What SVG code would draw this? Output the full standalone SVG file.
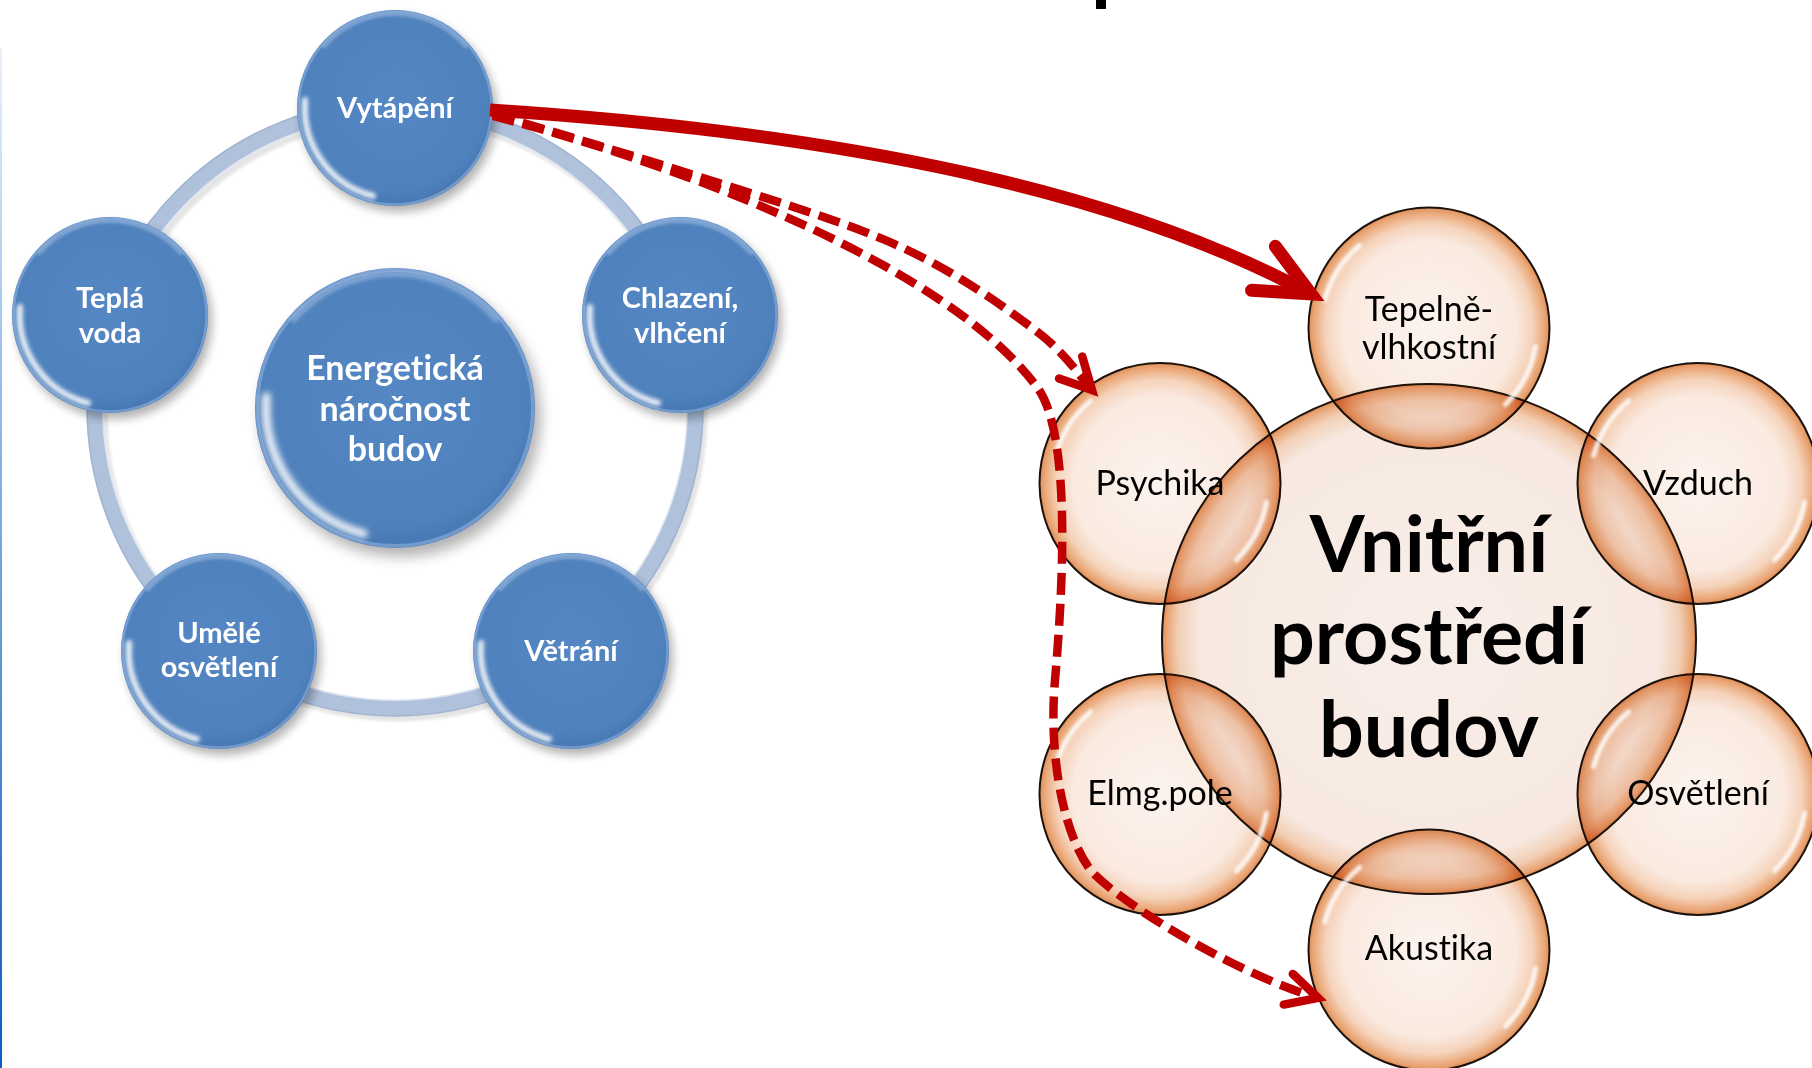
<svg xmlns="http://www.w3.org/2000/svg" width="1812" height="1068" viewBox="0 0 1812 1068">
<defs>
<style>
text{font-variant-ligatures:none;font-feature-settings:"liga" 0,"clig" 0}
.wt{font-family:Lato,"Liberation Sans",sans-serif;font-weight:700;fill:#fff;text-anchor:middle;font-size:29px}
.ct{font-size:34px}
.kt{font-family:Lato,"Liberation Sans",sans-serif;fill:#000;text-anchor:middle;font-size:34px}
.big{font-weight:700;font-size:79px}
.mul{mix-blend-mode:multiply}
.con{fill:none;stroke:#c00000}
.solid{stroke-width:13}
.dash{stroke-width:8.5;stroke-dasharray:22 9}
.hl{fill:none;stroke:#fff;stroke-width:5;stroke-linecap:round;opacity:.85}
</style>
<linearGradient id="edge" x1="0" y1="0" x2="0" y2="1"><stop offset="0" stop-color="#eaf2fb"/><stop offset=".3" stop-color="#9cc2ea"/><stop offset="1" stop-color="#0a5cc0"/></linearGradient>
<radialGradient id="blue" cx=".5" cy=".45" r=".55"><stop offset="0" stop-color="#5587c4"/><stop offset=".85" stop-color="#4f81bd"/><stop offset="1" stop-color="#4677b2"/></radialGradient>
<radialGradient id="peach" cx=".5" cy=".5" r=".5"><stop offset="0" stop-color="#fcf3ee"/><stop offset=".72" stop-color="#faeae0"/><stop offset=".86" stop-color="#f5d3bb"/><stop offset=".96" stop-color="#eaa676"/><stop offset="1" stop-color="#dd8e58"/></radialGradient>
<radialGradient id="peachC" cx=".5" cy=".5" r=".5"><stop offset="0" stop-color="#f8eee9"/><stop offset=".86" stop-color="#f7e9e1"/><stop offset=".94" stop-color="#f2cfb6"/><stop offset=".985" stop-color="#e8a474"/><stop offset="1" stop-color="#dc8c56"/></radialGradient>
<filter id="sh" x="-30%" y="-30%" width="160%" height="160%"><feGaussianBlur stdDeviation="5"/></filter>
<filter id="hb" x="-50%" y="-50%" width="200%" height="200%"><feGaussianBlur stdDeviation="1.6"/></filter>
<filter id="hb2" x="-50%" y="-50%" width="200%" height="200%"><feGaussianBlur stdDeviation="2.2"/></filter>
<g id="bn">
<circle cx="4" cy="6" r="98" fill="#000" opacity=".3" filter="url(#sh)"/>
<circle r="98" fill="url(#blue)"/>
<circle r="96.5" fill="none" stroke="#8fb0dc" stroke-width="2.5" opacity=".6"/>
<path d="M -72 -60.4 A 94 94 0 0 1 72 -60.4" fill="none" stroke="#c5d8f0" stroke-width="3" opacity=".55" filter="url(#hb)"/>
<path d="M -22 88 A 91 91 0 0 1 -90 -8" fill="none" stroke="#fff" stroke-width="6" stroke-linecap="round" opacity=".9" filter="url(#hb2)"/>
</g>
<circle id="pb" r="120.5" fill="url(#peach)" stroke="#1d120b" stroke-width="2"/>
<g id="pbh" filter="url(#hb)">
<path class="hl" d="M -104.3 -28 A 108 108 0 0 1 -69.4 -82.7"/>
<path class="hl" d="M 106.4 18.8 A 108 108 0 0 1 76.4 76.4"/>
</g>
<marker id="ahS" markerUnits="userSpaceOnUse" orient="auto" overflow="visible" markerWidth="1" markerHeight="1" refX="0" refY="0">
<path d="M -54 -25 L 0 0 L -54 25" fill="none" stroke="#c00000" stroke-width="13" stroke-linecap="round" stroke-linejoin="miter"/>
</marker>
<marker id="ahD" markerUnits="userSpaceOnUse" orient="auto" overflow="visible" markerWidth="1" markerHeight="1" refX="0" refY="0">
<path d="M -31 -16 L 0 0 L -31 16" fill="none" stroke="#c00000" stroke-width="8.5" stroke-linecap="round" stroke-linejoin="miter"/>
</marker>
</defs>

<rect width="1812" height="1068" fill="#fff"/>
<rect x="0" y="48" width="2" height="1020" fill="url(#edge)"/>
<rect x="1096" y="0" width="10" height="9" fill="#000"/>

<g id="ring">
<circle cx="399" cy="413" r="300" fill="none" stroke="#000" stroke-width="17" opacity=".1" filter="url(#hb)"/>
<circle cx="395" cy="408" r="300" fill="none" stroke="#b0c1dc" stroke-width="17"/>
<circle cx="395" cy="408" r="292" fill="none" stroke="#fff" stroke-width="2" opacity=".55"/>
<circle cx="395" cy="408" r="308" fill="none" stroke="#8fa4c6" stroke-width="1.5" opacity=".5"/>
</g>

<g id="n-center">
<use href="#bn" transform="translate(395 408) scale(1.4286)"/>
<text class="wt ct" x="395" y="380">Energetická</text>
<text class="wt ct" x="395" y="421">náročnost</text>
<text class="wt ct" x="395" y="461">budov</text>
</g>
<g id="n-vytapeni">
<use href="#bn" transform="translate(395 108)"/>
<text class="wt" x="395" y="118">Vytápění</text>
</g>
<g id="n-chlazeni">
<use href="#bn" transform="translate(680 315)"/>
<text class="wt" x="680" y="308">Chlazení,</text>
<text class="wt" x="680" y="343">vlhčení</text>
</g>
<g id="n-vetrani">
<use href="#bn" transform="translate(571 651)"/>
<text class="wt" x="571" y="661">Větrání</text>
</g>
<g id="n-umele">
<use href="#bn" transform="translate(219 651)"/>
<text class="wt" x="219" y="643">Umělé</text>
<text class="wt" x="219" y="677">osvětlení</text>
</g>
<g id="n-tepla">
<use href="#bn" transform="translate(110 315)"/>
<text class="wt" x="110" y="308">Teplá</text>
<text class="wt" x="110" y="343">voda</text>
</g>

<g id="v-center">
<ellipse class="mul" cx="1429" cy="639" rx="267" ry="255" fill="url(#peachC)" stroke="#1d120b" stroke-width="2"/>
</g>
<g id="v-tepelne"><use class="mul" href="#pb" x="1429" y="328"/></g>
<g id="v-psychika"><use class="mul" href="#pb" x="1160" y="483.5"/></g>
<g id="v-vzduch"><use class="mul" href="#pb" x="1698" y="483.5"/></g>
<g id="v-elmg"><use class="mul" href="#pb" x="1160" y="794.5"/></g>
<g id="v-osvetleni"><use class="mul" href="#pb" x="1698" y="794.5"/></g>
<g id="v-akustika"><use class="mul" href="#pb" x="1429" y="950"/></g>

<g id="highlights">
<use href="#pbh" x="1429" y="328"/>
<use href="#pbh" x="1160" y="483.5"/>
<use href="#pbh" x="1698" y="483.5"/>
<use href="#pbh" x="1160" y="794.5"/>
<use href="#pbh" x="1698" y="794.5"/>
<use href="#pbh" x="1429" y="950"/>
</g>

<g id="labels-right">
<text class="kt big" x="1429" y="572">Vnitřní</text>
<text class="kt big" x="1429" y="664">prostředí</text>
<text class="kt big" x="1429" y="757">budov</text>
<text class="kt" x="1429" y="321">Tepelně-</text>
<text class="kt" x="1429" y="359">vlhkostní</text>
<text class="kt" x="1160" y="495">Psychika</text>
<text class="kt" x="1698" y="495">Vzduch</text>
<text class="kt" x="1160" y="805">Elmg.pole</text>
<text class="kt" x="1698" y="805">Osvětlení</text>
<text class="kt" x="1429" y="960">Akustika</text>
</g>

<g id="connectors">
<path class="con solid" d="M 490 110 C 800 130, 1100 180, 1311 294" marker-end="url(#ahS)"/>
<path class="con dash" d="M 493 114 C 527.5 124.5, 632 154.8, 700 177 C 768 199.2, 845.2 221.5, 901 247 C 956.8 272.5, 1003.2 306.2, 1035 330 C 1066.8 353.8, 1082.5 380, 1092 390" marker-end="url(#ahD)"/>
<path class="con dash" d="M 493 116 C 700 170, 950 270, 1037 387 C 1073 435, 1062 600, 1055 680 C 1048 760, 1065 840, 1093 873 C 1130 910, 1240 975, 1318 998" marker-end="url(#ahD)"/>
</g>
</svg>
